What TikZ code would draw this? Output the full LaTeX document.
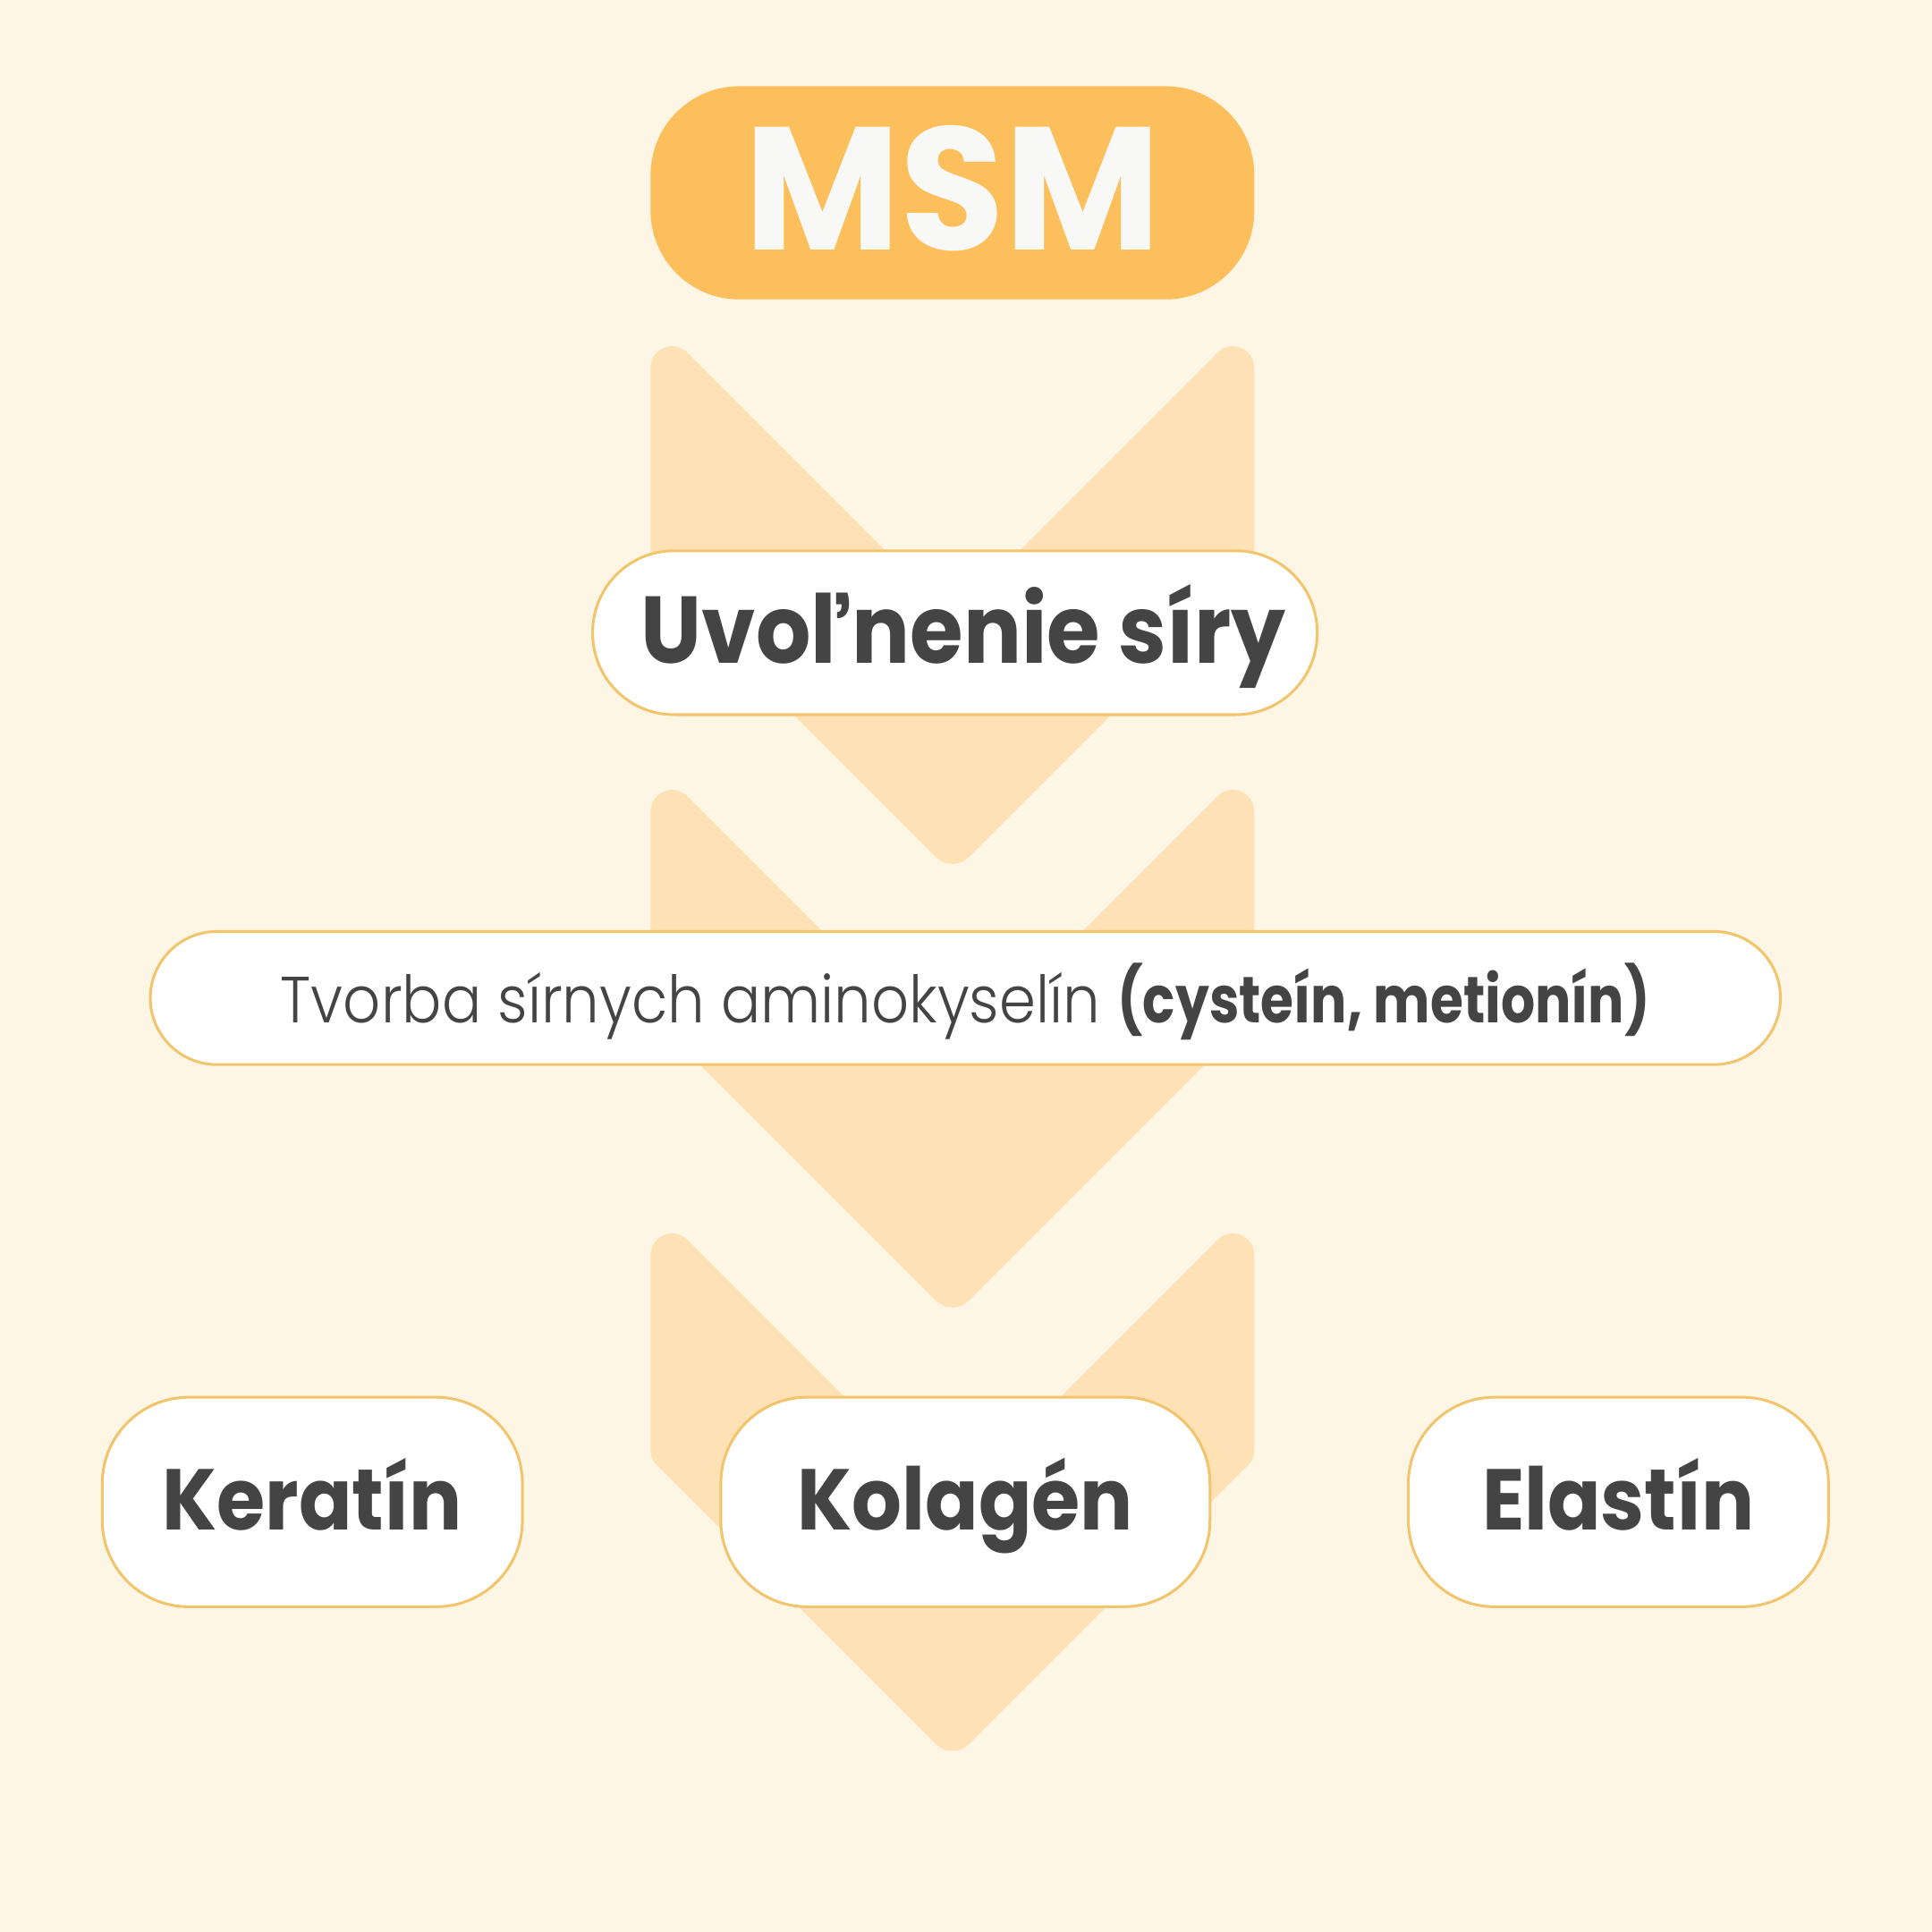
\documentclass[tikz,border=0pt]{standalone}
\usepackage{fontspec}
\setmainfont{Poppins}
\newfontfamily\plight{Poppins}[UprightFont=* Light, FakeStretch=0.90]
\newfontfamily\pbold{Poppins}[UprightFont=* Bold, FakeStretch=0.91]
\newfontfamily\pboldn{Poppins}[UprightFont=* Bold, FakeStretch=0.82]
\newfontfamily\pboldm{Poppins}[UprightFont=* Bold, FakeStretch=0.97]
\definecolor{bg}{HTML}{FEF6E4}
\definecolor{chev}{HTML}{FEE2B5}
\definecolor{msmfill}{HTML}{FDBE5C}
\definecolor{edge}{HTML}{F2C46C}
\definecolor{ink}{HTML}{444444}
\definecolor{msmtext}{HTML}{F8F8F6}
\begin{document}
\begin{tikzpicture}[x=1pt,y=-1pt,
  box/.style={draw=edge, line width=2.2pt, fill=white, rectangle, inner sep=0pt, text=ink},
  chevron/.style={fill=chev}]
\useasboundingbox (0,0) rectangle (1568,1568);
\fill[bg] (0,0) rectangle (1568,1568);
% chevrons
\foreach \i in {0,1,2}{
  \begin{scope}[yshift=-360*\i pt]
  \fill[chevron]
    (528,380) -- (528,452) .. controls (528,464) .. (536.5,472.5)
    -- (759.6,695.6) .. controls (767.0,703.0) and (779.0,703.0) .. (786.4,695.6)
    -- (1009.5,472.5) .. controls (1018,464) .. (1018,452)
    -- (1018,298.4) .. controls (1018,288.8) and (1010.2,281) .. (1000.6,281)
    .. controls (996.0,281) and (991.6,282.8) .. (988.3,286.1)
    -- (773,501.4) -- (557.7,286.1)
    .. controls (554.4,282.8) and (550.0,281) .. (545.4,281)
    .. controls (535.8,281) and (528,288.8) .. (528,298.4) -- cycle;
  \end{scope}
}
% boxes
\node[rectangle, fill=msmfill, rounded corners=72pt, minimum width=490pt, minimum height=173pt,
      inner sep=0pt, text=msmtext, font=\pboldm\fontsize{142}{142}\selectfont,
      text height=100pt, text depth=7pt] (msm) at (773,156.5) {MSM};
\node[box, rounded corners=66pt, minimum width=588pt, minimum height=133pt,
      font=\pbold\fontsize{77}{77}\selectfont, text height=54pt, text depth=5pt] (uvol) at (775,513.5) {\hspace*{14pt}Uvoľnenie síry};
\node[box, rounded corners=54pt, minimum width=1323pt, minimum height=108pt,
      font=\fontsize{53}{53}\selectfont, text height=43pt, text depth=3pt] (tvorba) at (783.5,810)
      {{\plight Tvorba sírnych aminokyselín} {\pboldn (cysteín, metionín)}};
\node[box, rounded corners=70pt, minimum width=341pt, minimum height=170pt,
      font=\pbold\fontsize{70}{70}\selectfont, text height=49pt, text depth=3pt] (keratin) at (253.5,1219) {Keratín};
\node[box, rounded corners=70pt, minimum width=397pt, minimum height=170pt,
      font=\pbold\fontsize{70}{70}\selectfont, text height=49pt, text depth=3pt] (kolagen) at (783.5,1219) {Kolagén};
\node[box, rounded corners=70pt, minimum width=341pt, minimum height=170pt,
      font=\pbold\fontsize{70}{70}\selectfont, text height=49pt, text depth=3pt] (elastin) at (1313.5,1219) {Elastín};
\end{tikzpicture}
\end{document}
